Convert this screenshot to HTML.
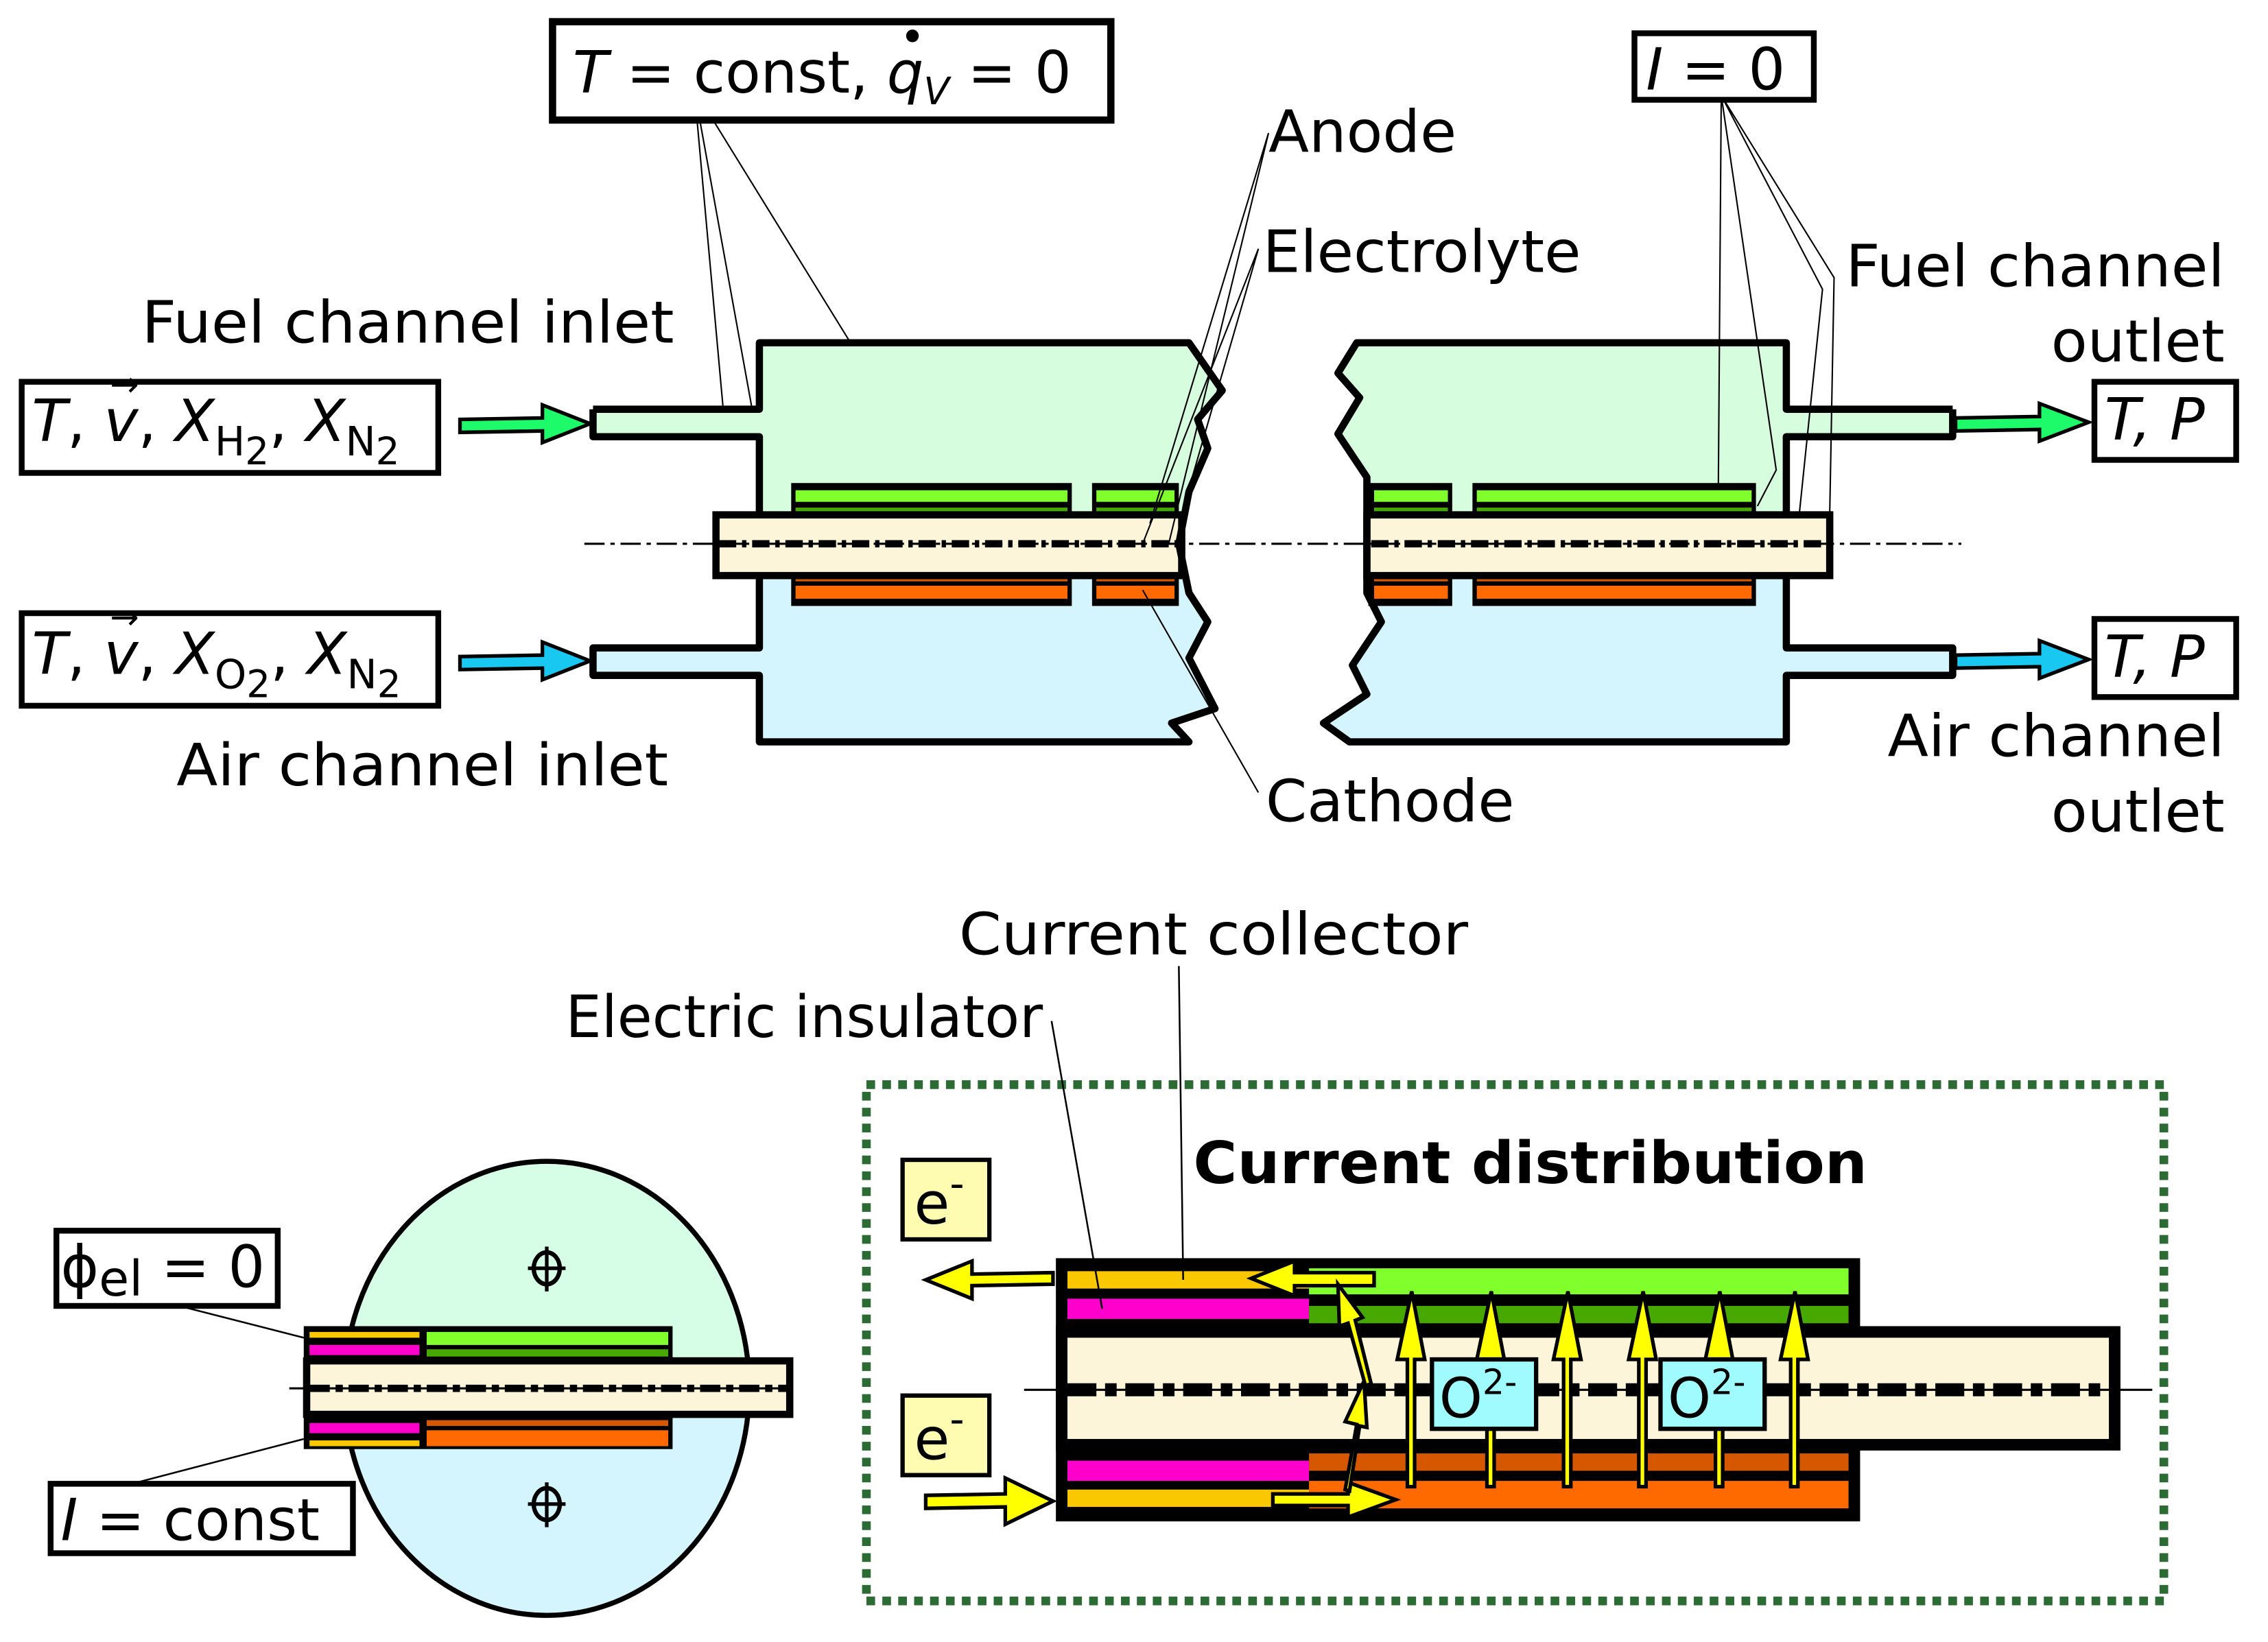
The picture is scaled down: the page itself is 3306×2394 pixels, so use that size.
<!DOCTYPE html>
<html><head><meta charset="utf-8"><style>html,body{margin:0;padding:0;background:#fff}svg{display:block}</style></head><body>
<svg width="3306" height="2394" viewBox="0 0 1568 1135.4" preserveAspectRatio="none" xmlns="http://www.w3.org/2000/svg" font-family="'DejaVu Sans','Liberation Sans',sans-serif">
<!-- ============ TOP DIAGRAM ============ -->
<path d="M410,283 L525,283 L525,237 L822,237 L845,270 L828,290 L835,310 L822,340 L815,376 L525,376 L525,302 L410,302 Z" fill="#d6fddd"/>
<path d="M410,448 L525,448 L525,376 L815,376 L822,410 L835,430 L822,455 L840,490 L810,500 L822,513 L525,513 L525,467 L410,467 Z" fill="#d4f5fd"/>
<path d="M1350,283 L1235,283 L1235,237 L938,237 L925,258 L940,275 L925,300 L945,330 L945,376 L1235,376 L1235,302 L1350,302 Z" fill="#d6fddd"/>
<path d="M1350,448 L1235,448 L1235,376 L945,376 L945,410 L955,430 L935,460 L945,480 L915,500 L933,513 L1235,513 L1235,467 L1350,467 Z" fill="#d4f5fd"/>
<!-- bars left -->
<rect x="547" y="334" width="194" height="22" fill="#000"/><rect x="550" y="339" width="188" height="8" fill="#80ff2c"/><rect x="550" y="351" width="188" height="4" fill="#46a800"/>
<rect x="755" y="334" width="60" height="22" fill="#000"/><rect x="758" y="339" width="54" height="8" fill="#80ff2c"/><rect x="758" y="351" width="54" height="4" fill="#46a800"/>
<rect x="547" y="397" width="194" height="22" fill="#000"/><rect x="550" y="398" width="188" height="4" fill="#d55800"/><rect x="550" y="405" width="188" height="9" fill="#ff6a00"/>
<rect x="755" y="397" width="60" height="22" fill="#000"/><rect x="758" y="398" width="54" height="4" fill="#d55800"/><rect x="758" y="405" width="54" height="9" fill="#ff6a00"/>
<rect x="495" y="356" width="322" height="42" fill="#fdf5d9" stroke="#000" stroke-width="5"/>
<!-- bars right -->
<rect x="946" y="334" width="58" height="22" fill="#000"/><rect x="950" y="339" width="51" height="8" fill="#80ff2c"/><rect x="950" y="351" width="51" height="4" fill="#46a800"/>
<rect x="1018" y="334" width="196" height="22" fill="#000"/><rect x="1021" y="339" width="190" height="8" fill="#80ff2c"/><rect x="1021" y="351" width="190" height="4" fill="#46a800"/>
<rect x="946" y="397" width="58" height="22" fill="#000"/><rect x="950" y="398" width="51" height="4" fill="#d55800"/><rect x="950" y="405" width="51" height="9" fill="#ff6a00"/>
<rect x="1018" y="397" width="196" height="22" fill="#000"/><rect x="1021" y="398" width="190" height="4" fill="#d55800"/><rect x="1021" y="405" width="190" height="9" fill="#ff6a00"/>
<rect x="945" y="356" width="320" height="42" fill="#fdf5d9" stroke="#000" stroke-width="5"/>
<!-- housing outlines -->
<g fill="none" stroke="#000" stroke-width="5" stroke-linejoin="round">
<path d="M410,283 L525,283 L525,237 L822,237 L845,270 L828,290 L835,310 L822,340 L815,376 L822,410 L835,430 L822,455 L840,490 L810,500 L822,513 L525,513 L525,467 L410,467 L410,448 L525,448 L525,397"/>
<path d="M410,283 L410,302 L525,302 L525,355"/>
<path d="M1350,283 L1235,283 L1235,237 L938,237 L925,258 L940,275 L925,300 L945,330 L945,376 L945,410 L955,430 L935,460 L945,480 L915,500 L933,513 L1235,513 L1235,467 L1350,467 L1350,448 L1235,448 L1235,397"/>
<path d="M1350,283 L1350,302 L1235,302 L1235,355"/>
</g>
<line x1="404" y1="376" x2="1356" y2="376" stroke="#000" stroke-width="1.5" stroke-dasharray="14,4,3,4"/>
<line x1="497" y1="376" x2="815" y2="376" stroke="#000" stroke-width="5" stroke-dasharray="12,4,3,4"/>
<line x1="948" y1="376" x2="1262" y2="376" stroke="#000" stroke-width="5" stroke-dasharray="12,4,3,4"/>
<g stroke="#000" stroke-width="2.5">
<path d="M318,290 L375,289 L375,280 L408,293 L375,306 L375,298 L318,299 Z" fill="#1dfb6a"/>
<path d="M318,454 L375,453 L375,444 L408,457 L375,470 L375,462 L318,463 Z" fill="#18c8f0"/>
<path d="M1352,289 L1410,288 L1410,279 L1444,292 L1410,305 L1410,297 L1352,298 Z" fill="#1dfb6a"/>
<path d="M1352,453 L1410,452 L1410,443 L1444,456 L1410,469 L1410,461 L1352,462 Z" fill="#18c8f0"/>
</g>
<g stroke="#000" stroke-width="1" fill="none">
<path d="M480,62 L500,283 M480,62 L520,283 M480,62 L588,237"/>
<path d="M877,92 L795,362 M877,92 L808,376"/>
<path d="M870,172 L790,376 M870,172 L815,362"/>
<path d="M870,548 L790,408"/>
<path d="M1190,66 L1188,335 M1190,66 L1228,325 L1215,350 M1190,66 L1260,200 L1244,355 M1190,66 L1268,192 L1265,355"/>
</g>
<g fill="#fff" stroke="#000" stroke-width="5">
<rect x="382" y="15" width="386" height="68"/>
<rect x="1130" y="23" width="124" height="46" stroke-width="4"/>
<rect x="15" y="264" width="288" height="63" stroke-width="4"/>
<rect x="15" y="424" width="288" height="64" stroke-width="4"/>
<rect x="1448" y="264" width="98" height="54" stroke-width="4"/>
<rect x="1448" y="428" width="98" height="54" stroke-width="4"/>
</g>
<g font-size="40" fill="#000">
<text x="396" y="64"><tspan font-style="italic">T</tspan> = const, <tspan font-style="italic">q</tspan><tspan font-size="26" font-style="italic" dy="8">V</tspan><tspan dy="-8"> = 0</tspan></text>
<text x="622" y="36" font-size="30">•</text>
<text x="1138" y="62"><tspan font-style="italic">I</tspan> = 0</text>
<text x="22" y="305"><tspan font-style="italic">T</tspan>, <tspan font-style="italic">v</tspan>, <tspan font-style="italic">X</tspan><tspan font-size="28" dy="10">H</tspan><tspan font-size="26" dy="6">2</tspan><tspan dy="-16">, </tspan><tspan font-style="italic">X</tspan><tspan font-size="28" dy="10">N</tspan><tspan font-size="26" dy="6">2</tspan></text>
<text x="76" y="274" font-size="24">→</text>
<text x="22" y="466"><tspan font-style="italic">T</tspan>, <tspan font-style="italic">v</tspan>, <tspan font-style="italic">X</tspan><tspan font-size="28" dy="10">O</tspan><tspan font-size="26" dy="6">2</tspan><tspan dy="-16">, </tspan><tspan font-style="italic">X</tspan><tspan font-size="28" dy="10">N</tspan><tspan font-size="26" dy="6">2</tspan></text>
<text x="76" y="435" font-size="24">→</text>
<text x="1455" y="304" font-style="italic">T, P</text>
<text x="1455" y="468" font-style="italic">T, P</text>
<text x="98" y="237" textLength="368" lengthAdjust="spacingAndGlyphs">Fuel channel inlet</text>
<text x="122" y="543" textLength="340" lengthAdjust="spacingAndGlyphs">Air channel inlet</text>
<text x="877" y="105" textLength="130" lengthAdjust="spacingAndGlyphs">Anode</text>
<text x="873" y="188" textLength="220" lengthAdjust="spacingAndGlyphs">Electrolyte</text>
<text x="875" y="568" textLength="172" lengthAdjust="spacingAndGlyphs">Cathode</text>
<text x="1276" y="198" textLength="262" lengthAdjust="spacingAndGlyphs">Fuel channel</text>
<text x="1418" y="250" textLength="120" lengthAdjust="spacingAndGlyphs">outlet</text>
<text x="1305" y="523" textLength="233" lengthAdjust="spacingAndGlyphs">Air channel</text>
<text x="1418" y="575" textLength="120" lengthAdjust="spacingAndGlyphs">outlet</text>
</g>

<!-- ============ BOTTOM LEFT ============ -->
<path d="M238,960 A140,157 0 0 1 518,960 Z" fill="#d6fde5"/>
<path d="M238,960 A140,157 0 0 0 518,960 Z" fill="#d4f5fd"/>
<ellipse cx="378" cy="960" rx="140" ry="157" fill="none" stroke="#000" stroke-width="3.5"/>
<g stroke="#000" fill="none" stroke-width="2.5">
<ellipse cx="378" cy="877" rx="9" ry="11" stroke-width="3"/><path d="M378,862 V893 M365,877 H391"/>
<ellipse cx="378" cy="1040" rx="9" ry="11" stroke-width="3"/><path d="M378,1025 V1056 M365,1040 H391"/>
</g>
<rect x="210" y="917" width="255" height="85" fill="#000"/>
<rect x="214" y="921" width="76" height="4" fill="#f9c800"/>
<rect x="214" y="930" width="76" height="7" fill="#ff00cc"/>
<rect x="295" y="921" width="167" height="9" fill="#80ff2c"/>
<rect x="295" y="933" width="167" height="5" fill="#46a800"/>
<rect x="214" y="984" width="76" height="7" fill="#ff00cc"/>
<rect x="214" y="996" width="76" height="4" fill="#f9c800"/>
<rect x="295" y="982" width="167" height="4" fill="#d55800"/>
<rect x="295" y="989" width="167" height="11" fill="#ff6a00"/>
<rect x="212" y="941" width="334" height="37" fill="#fdf5d9" stroke="#000" stroke-width="5"/>
<line x1="200" y1="960" x2="546" y2="960" stroke="#000" stroke-width="1.5"/>
<line x1="214" y1="960" x2="544" y2="960" stroke="#000" stroke-width="5" stroke-dasharray="14,4,5,4"/>
<g stroke="#000" stroke-width="1.2"><path d="M120,902 L210,925 M95,1025 L210,995"/></g>
<rect x="39" y="851" width="153" height="52" fill="#fff" stroke="#000" stroke-width="4"/>
<rect x="35" y="1026" width="209" height="48" fill="#fff" stroke="#000" stroke-width="4"/>
<g font-size="40">
<text x="42" y="890">ϕ<tspan font-size="34" dy="6">el</tspan><tspan dy="-6"> = 0</tspan></text>
<text x="42" y="1065"><tspan font-style="italic">I</tspan> = const</text>
</g>

<!-- ============ BOTTOM RIGHT ============ -->
<rect x="599" y="750" width="897" height="357" fill="none" stroke="#2d6b34" stroke-width="6" stroke-dasharray="6,5"/>
<text x="825" y="818" font-size="40" font-weight="bold" textLength="466" lengthAdjust="spacingAndGlyphs">Current distribution</text>
<text x="663" y="660" font-size="40" textLength="352" lengthAdjust="spacingAndGlyphs">Current collector</text>
<text x="391" y="717" font-size="40" textLength="330" lengthAdjust="spacingAndGlyphs">Electric insulator</text>
<rect x="730" y="870" width="556" height="182" fill="#000"/>
<rect x="738" y="879" width="167" height="12" fill="#f9c800"/>
<rect x="738" y="898" width="167" height="14" fill="#ff00cc"/>
<rect x="905" y="877" width="373" height="18" fill="#80ff2c"/>
<rect x="905" y="903" width="373" height="12" fill="#46a800"/>
<rect x="738" y="1010" width="167" height="14" fill="#ff00cc"/>
<rect x="738" y="1030" width="167" height="12" fill="#f9c800"/>
<rect x="905" y="1005" width="373" height="12" fill="#d55800"/>
<rect x="905" y="1024" width="373" height="19" fill="#ff6a00"/>
<rect x="734" y="921" width="728" height="78" fill="#fdf5d9" stroke="#000" stroke-width="8"/>
<line x1="708" y1="961" x2="1488" y2="961" stroke="#000" stroke-width="1.5"/>
<line x1="738" y1="961" x2="1460" y2="961" stroke="#000" stroke-width="9" stroke-dasharray="20,6,8,6"/>
<g stroke="#000" stroke-width="1.2"><path d="M815,668 L818,885 M727,706 L762,905"/></g>
<rect x="624" y="802" width="60" height="55" fill="#fefcb0" stroke="#000" stroke-width="3"/>
<rect x="624" y="965" width="60" height="55" fill="#fefcb0" stroke="#000" stroke-width="3"/>
<text x="632" y="846" font-size="40">e<tspan font-size="28" dy="-18">-</tspan></text>
<text x="632" y="1009" font-size="40">e<tspan font-size="28" dy="-18">-</tspan></text>
<g fill="#ffff00" stroke="#000" stroke-width="2.5">
<path d="M728,880 L672,881 L672,872 L640,885 L672,898 L672,889 L728,888 Z"/>
<path d="M950,880 L895,880 L895,872 L865,884 L895,896 L895,889 L950,889 Z"/>
<path d="M640,1034 L695,1033 L695,1022 L728,1038 L695,1054 L695,1042 L640,1043 Z"/>
<path d="M880,1033 L932,1033 L932,1025 L965,1037 L932,1049 L932,1041 L880,1041 Z"/>
<path d="M930,1030 L938,985 L930,983 L943,955 L945,987 L940,986 L933,1031 Z"/>
<path d="M944,958 L932,915 L926,917 L925,888 L942,911 L937,913 L948,957 Z"/>
<path d="M973,1028 L973,940 L966,940 L976,893 L985,940 L978,940 L978,1028 Z"/>
<path d="M1028,1028 L1028,940 L1021,940 L1031,893 L1040,940 L1033,940 L1033,1028 Z"/>
<path d="M1081,1028 L1081,940 L1074,940 L1084,893 L1093,940 L1086,940 L1086,1028 Z"/>
<path d="M1133,1028 L1133,940 L1126,940 L1136,893 L1145,940 L1138,940 L1138,1028 Z"/>
<path d="M1186,1028 L1186,940 L1179,940 L1189,893 L1198,940 L1191,940 L1191,1028 Z"/>
<path d="M1238,1028 L1238,940 L1231,940 L1241,893 L1250,940 L1243,940 L1243,1028 Z"/>
</g>
<rect x="990" y="940" width="72" height="48" fill="#a0fbff" stroke="#000" stroke-width="3"/>
<rect x="1148" y="940" width="72" height="48" fill="#a0fbff" stroke="#000" stroke-width="3"/>
<text x="995" y="980" font-size="38">O<tspan font-size="24" dy="-16">2-</tspan></text>
<text x="1153" y="980" font-size="38">O<tspan font-size="24" dy="-16">2-</tspan></text>
</svg>
</body></html>
